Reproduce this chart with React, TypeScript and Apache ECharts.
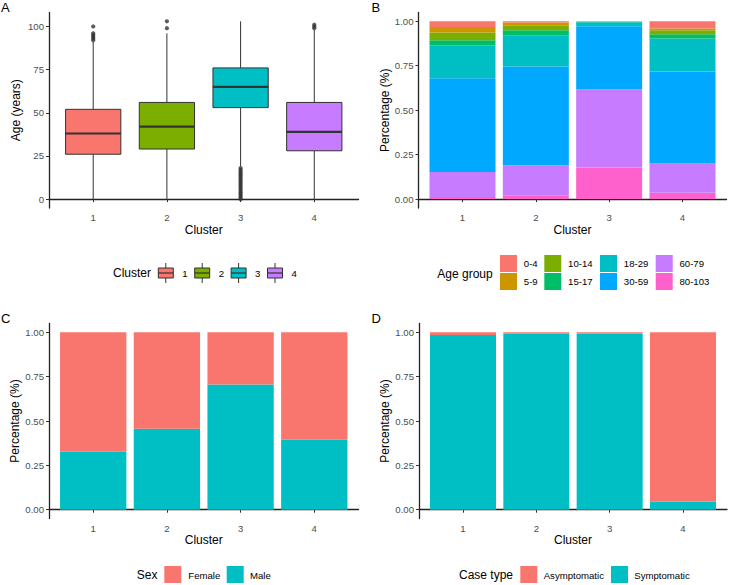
import React, { useEffect, useRef } from 'react';
import * as echarts from 'echarts';

const FONT = '"Liberation Sans", Arial, Helvetica, sans-serif';

// ---------- data ----------
const clusters = [1, 2, 3, 4];
const clusterLabels = ['1', '2', '3', '4'];

// Panel A: age boxplots [lower whisker, Q1, median, Q3, upper whisker]
const ageBox1 = [0, 26, 38, 52, 91];
const ageBox2 = [0, 29, 42, 56, 96];
const ageBox3 = [19, 53, 65, 76, 103];
const ageBox4 = [0, 28, 39, 56, 98];
const ageOutliers1 = [92, 93, 94, 95, 96, 100];
const ageOutliers2 = [99, 103];
const ageOutliers3 = [0, 1, 2, 3, 4, 5, 6, 7, 8, 9, 10, 11, 12, 13, 14, 15, 16, 17, 18];
const ageOutliers4 = [99, 100, 101];
const ageTicks = [0, 25, 50, 75, 100];

// Panel B: age-group shares per cluster
const ageGroups = ['0-4', '5-9', '10-14', '15-17', '18-29', '30-59', '60-79', '80-103'];
const share0to4 = [0.032, 0.007, 0.001, 0.041];
const share5to9 = [0.031, 0.015, 0.001, 0.010];
const share10to14 = [0.044, 0.028, 0.002, 0.022];
const share15to17 = [0.028, 0.028, 0.002, 0.024];
const share18to29 = [0.185, 0.176, 0.022, 0.186];
const share30to59 = [0.528, 0.555, 0.354, 0.517];
const share60to79 = [0.140, 0.169, 0.440, 0.164];
const share80to103 = [0.012, 0.022, 0.178, 0.036];

// Panel C: sex shares
const sexGroups = ['Female', 'Male'];
const femaleShare = [0.673, 0.543, 0.295, 0.605];
const maleShare = [0.327, 0.457, 0.705, 0.395];

// Panel D: case type shares
const caseGroups = ['Asymptomatic', 'Symptomatic'];
const asymShare = [0.015, 0.008, 0.008, 0.953];
const symShare = [0.985, 0.992, 0.992, 0.047];

const pctTicks = [0, 0.25, 0.5, 0.75, 1];

// ---------- styles ----------
const clusterColors = ['#F8766D', '#7CAE00', '#00BFC4', '#C77CFF'];
const ageColors = ['#F8766D', '#CD9600', '#7CAE00', '#00BE67', '#00BFC4', '#00A9FF', '#C77CFF', '#FF61CC'];
const twoColors = ['#F8766D', '#00BFC4'];
const INK = '#333333';

const ageBoxes = [ageBox1, ageBox2, ageBox3, ageBox4];
const ageOutliers = [ageOutliers1, ageOutliers2, ageOutliers3, ageOutliers4];
const ageShares = [share0to4, share5to9, share10to14, share15to17, share18to29, share30to59, share60to79, share80to103];

function barRender(color: string) {
  return (params: any, api: any) => {
    const x = api.value(0);
    const y0 = api.value(1);
    const y1 = api.value(2);
    const a = api.coord([x - 0.45, y1]);
    const b = api.coord([x + 0.45, y0]);
    return {
      type: 'rect',
      shape: { x: a[0], y: a[1], width: b[0] - a[0], height: b[1] - a[1] },
      style: { fill: color },
    };
  };
}

function stackSeries(groups: string[], shares: number[][], colors: string[], idx: number) {
  const base = clusters.map(() => 0);
  const out: any[] = [];
  for (let g = groups.length - 1; g >= 0; g--) {
    const data = clusters.map((c, i) => {
      const y0 = base[i];
      const y1 = y0 + shares[g][i];
      base[i] = y1;
      return [c, y0, y1];
    });
    out.push({
      type: 'custom',
      name: groups[g],
      xAxisIndex: idx,
      yAxisIndex: idx,
      data,
      encode: { x: 0, y: [1, 2] },
      itemStyle: { color: colors[g] },
      renderItem: barRender(colors[g]),
    });
  }
  return out;
}

function boxRender(params: any, api: any) {
  const x = api.value(0);
  const lo = api.value(1);
  const q1 = api.value(2);
  const med = api.value(3);
  const q3 = api.value(4);
  const hi = api.value(5);
  const half = 0.375;
  const color = clusterColors[params.dataIndex];
  const pHi = api.coord([x, hi]);
  const pLo = api.coord([x, lo]);
  const pQ3 = api.coord([x, q3]);
  const pQ1 = api.coord([x, q1]);
  const tl = api.coord([x - half, q3]);
  const br = api.coord([x + half, q1]);
  const m1 = api.coord([x - half, med]);
  const m2 = api.coord([x + half, med]);
  return {
    type: 'group',
    children: [
      { type: 'line', shape: { x1: pHi[0], y1: pHi[1], x2: pQ3[0], y2: pQ3[1] }, style: { stroke: INK, lineWidth: 1 } },
      { type: 'line', shape: { x1: pQ1[0], y1: pQ1[1], x2: pLo[0], y2: pLo[1] }, style: { stroke: INK, lineWidth: 1 } },
      { type: 'rect', shape: { x: tl[0], y: tl[1], width: br[0] - tl[0], height: br[1] - tl[1] }, style: { fill: color, stroke: INK, lineWidth: 1 } },
      { type: 'line', shape: { x1: m1[0], y1: m1[1], x2: m2[0], y2: m2[1] }, style: { stroke: INK, lineWidth: 2.2 } },
    ],
  };
}

function xAxisCfg(idx: number) {
  return {
    type: 'value',
    gridIndex: idx,
    min: 0.4,
    max: 4.6,
    axisLine: { show: true, lineStyle: { color: '#222', width: 1.3 } },
    axisTick: { show: true, length: 3, lineStyle: { color: INK }, customValues: clusters },
    axisLabel: {
      customValues: clusters,
      color: '#4D4D4D',
      fontSize: 9.6,
      fontFamily: FONT,
      margin: 4.5,
      formatter: (v: number) => clusterLabels[Math.round(v) - 1] ?? '',
    },
    splitLine: { show: false },
    name: 'Cluster',
    nameLocation: 'middle',
    nameGap: 15.5,
    nameTextStyle: { fontSize: 12, color: '#000', fontFamily: FONT },
  };
}

function yAxisCfg(idx: number, min: number, max: number, ticks: number[], name: string, fmt: (v: number) => string) {
  return {
    type: 'value',
    gridIndex: idx,
    min,
    max,
    axisLine: { show: true, lineStyle: { color: '#222', width: 1.3 } },
    axisTick: { show: true, length: 3, lineStyle: { color: INK }, customValues: ticks },
    axisLabel: { customValues: ticks, color: '#4D4D4D', fontSize: 9.6, fontFamily: FONT, margin: 5, formatter: fmt },
    splitLine: { show: false },
    name,
    nameLocation: 'middle',
    nameGap: 27,
    nameRotate: 90,
    nameTextStyle: { fontSize: 12, color: '#000', fontFamily: FONT },
  };
}

function txt(text: string, x: number, y: number, size: number, color = '#000') {
  return {
    type: 'text',
    x,
    y,
    silent: true,
    style: { text, fontSize: size, fontFamily: FONT, fill: color, align: 'left', verticalAlign: 'middle' },
  };
}

function keyRect(x: number, y: number, color: string) {
  return { type: 'rect', silent: true, shape: { x, y, width: 17, height: 17 }, style: { fill: color } };
}

function boxKey(x: number, color: string) {
  const cx = x + 7.5;
  return {
    type: 'group',
    silent: true,
    children: [
      { type: 'line', shape: { x1: cx, y1: 263, x2: cx, y2: 268 }, style: { stroke: INK, lineWidth: 1 } },
      { type: 'line', shape: { x1: cx, y1: 278, x2: cx, y2: 283 }, style: { stroke: INK, lineWidth: 1 } },
      { type: 'rect', shape: { x, y: 268, width: 15, height: 10 }, style: { fill: color, stroke: INK, lineWidth: 1 } },
      { type: 'line', shape: { x1: x, y1: 273, x2: x + 15, y2: 273 }, style: { stroke: INK, lineWidth: 1.2 } },
    ],
  };
}

export default function App() {
  const ref = useRef<HTMLDivElement>(null);

  useEffect(() => {
    if (!ref.current) return;
    const chart = echarts.init(ref.current, undefined, { renderer: 'svg' });

    const pctFmt = (v: number) => v.toFixed(2);

    const boxData = clusters.map((c, i) => [c, ...ageBoxes[i]]);
    const outlierData: number[][] = [];
    clusters.forEach((c, i) => ageOutliers[i].forEach((v) => outlierData.push([c, v])));

    const graphics: any[] = [
      txt('A', 1, 7.5, 13),
      txt('B', 371.5, 7.5, 13),
      txt('C', 1, 318, 13),
      txt('D', 371.5, 318, 13),
      // legend A
      txt('Cluster', 113, 273, 12),
      ...clusterLabels.flatMap((lab, i) => {
        const kx = 158.3 + i * 36.4;
        return [boxKey(kx, clusterColors[i]), txt(lab, kx + 24, 273.5, 9.6)];
      }),
      // legend B
      txt('Age group', 437.3, 273.5, 12),
      ...ageGroups.flatMap((lab, i) => {
        const colX = [500, 544.3, 600, 655.7][Math.floor(i / 2)];
        const rowY = [255, 273][i % 2];
        return [keyRect(colX, rowY, ageColors[i]), txt(lab, colX + 23.8, rowY + 8.8, 9.6)];
      }),
      // legend C
      txt('Sex', 136.7, 575, 12),
      keyRect(164.3, 566, twoColors[0]),
      txt(sexGroups[0], 188.3, 575.3, 9.6),
      keyRect(226.7, 566, twoColors[1]),
      txt(sexGroups[1], 250, 575.3, 9.6),
      // legend D
      txt('Case type', 459, 575, 12),
      keyRect(520.3, 566, twoColors[0]),
      txt(caseGroups[0], 543.7, 575.3, 9.6),
      keyRect(611, 566, twoColors[1]),
      txt(caseGroups[1], 634.3, 575.3, 9.6),
    ];

    const option: any = {
      animation: false,
      backgroundColor: '#fff',
      textStyle: { fontFamily: FONT },
      grid: [
        { left: 49, top: 12.4, width: 309.5, height: 195.6, outerBoundsMode: 'none' },
        { left: 418.5, top: 12.4, width: 308, height: 195.6, outerBoundsMode: 'none' },
        { left: 49, top: 323.4, width: 309.5, height: 195.2, outerBoundsMode: 'none' },
        { left: 419, top: 323.4, width: 308, height: 195.2, outerBoundsMode: 'none' },
      ],
      xAxis: [xAxisCfg(0), xAxisCfg(1), xAxisCfg(2), xAxisCfg(3)],
      yAxis: [
        yAxisCfg(0, -5.15, 108.15, ageTicks, 'Age (years)', (v: number) => String(v)),
        yAxisCfg(1, -0.05, 1.05, pctTicks, 'Percentage (%)', pctFmt),
        yAxisCfg(2, -0.05, 1.05, pctTicks, 'Percentage (%)', pctFmt),
        yAxisCfg(3, -0.05, 1.05, pctTicks, 'Percentage (%)', pctFmt),
      ],
      series: [
        {
          type: 'custom',
          name: 'Age',
          xAxisIndex: 0,
          yAxisIndex: 0,
          data: boxData,
          encode: { x: 0, y: [1, 5] },
          renderItem: boxRender,
        },
        {
          type: 'scatter',
          name: 'Outliers',
          xAxisIndex: 0,
          yAxisIndex: 0,
          data: outlierData,
          symbol: 'circle',
          symbolSize: 4.2,
          itemStyle: { color: INK },
        },
        ...stackSeries(ageGroups, ageShares, ageColors, 1),
        ...stackSeries(sexGroups, [femaleShare, maleShare], twoColors, 2),
        ...stackSeries(caseGroups, [asymShare, symShare], twoColors, 3),
      ],
      graphic: graphics,
    };

    chart.setOption(option);
    return () => chart.dispose();
  }, []);

  return (
    <div
      ref={ref}
      style={{ position: 'absolute', left: 0, top: 0, width: 729, height: 585, background: '#fff' }}
    />
  );
}
